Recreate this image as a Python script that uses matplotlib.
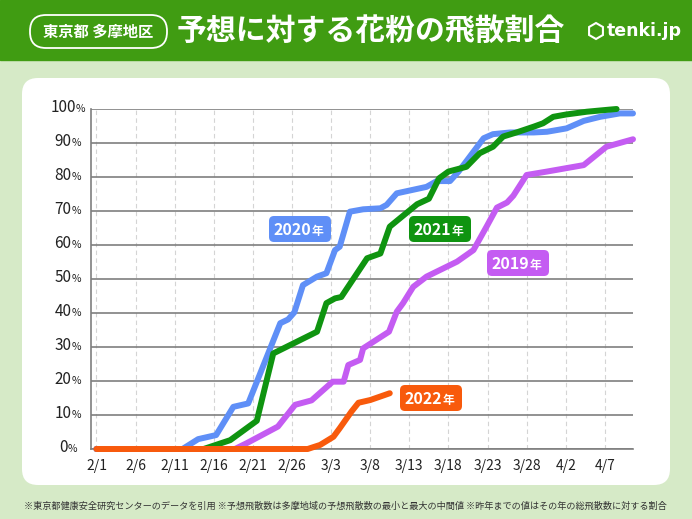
import matplotlib
matplotlib.use("Agg")
import matplotlib.pyplot as plt
from matplotlib.patches import FancyBboxPatch, Rectangle, RegularPolygon
from matplotlib import transforms

plt.rcParams['font.family'] = ['Noto Sans CJK JP', 'DejaVu Sans']

# data: day offset from 2/1, cumulative share (%)
days_2019 = [0, 17.7, 19.2, 23.2, 25.4, 27.5, 30.2, 31.6, 32.2, 33.7, 34.1, 37.4, 38.4, 39.2,
             40.5, 42.2, 46.1, 48.2, 49.9, 51.2, 52.5, 53.3, 55, 57.6, 62.3, 65.2, 68.6]
pct_2019 = [0, 0, 1.7, 6.6, 13, 14.3, 19.8, 19.8, 24.7, 26.2, 29.6, 34.5, 40.4, 42.9,
            47.7, 50.7, 55.1, 58.5, 65.5, 71, 72.5, 74.5, 80.6, 81.6, 83.5, 88.9, 91.1]

days_2020 = [0, 11, 13, 15.3, 17.5, 19.4, 23.5, 24.5, 25.3, 26.4, 28.2, 29.4, 30.5, 31.1,
             32.4, 34.1, 36.3, 37.1, 38.4, 41.4, 42.2, 43.5, 45.2, 46.3, 49.5, 50.7, 52.9,
             55.9, 57.6, 60.1, 62.3, 64.4, 66.9, 68.6]
pct_2020 = [0, 0, 2.9, 4.1, 12.4, 13.4, 37, 38.1, 40.2, 48.2, 50.7, 51.7, 58.5, 59.5,
            69.8, 70.5, 70.8, 71.8, 75.2, 76.7, 77.1, 78.8, 78.8, 81.6, 91.4, 92.6, 93.1,
            93.1, 93.3, 94.3, 96.5, 97.7, 98.7, 98.7]

days_2021 = [0, 13.7, 17.1, 20.5, 22.6, 28.2, 29.4, 30.5, 31.3, 34.6, 36.3, 37.5, 41, 42.5,
             43.8, 45, 47.3, 49, 50.7, 52, 53.7, 55.9, 57.1, 58.4, 60.1, 62.7, 65.5, 66.5]
pct_2021 = [0, 0, 2.6, 8.3, 28.1, 34.5, 42.9, 44.3, 44.7, 56.1, 57.5, 65.4, 72, 73.6,
            79.6, 81.6, 83, 87, 88.9, 91.9, 93.1, 94.8, 95.8, 97.7, 98.4, 99.2, 99.8, 100]

days_2022 = [0, 27, 28.6, 30.3, 31.1, 32.6, 33.5, 35, 37.5]
pct_2022 = [0, 0, 1.2, 3.6, 6.1, 11, 13.6, 14.4, 16.4]

tick_days = list(range(0, 66, 5))
tick_labels = ['2/1', '2/6', '2/11', '2/16', '2/21', '2/26', '3/3', '3/8',
               '3/13', '3/18', '3/23', '3/28', '4/2', '4/7']

C_2019 = '#c45cf2'
C_2020 = '#5f8ff7'
C_2021 = '#0f9410'
C_2022 = '#f85a0c'

W, H = 692, 519
fig = plt.figure(figsize=(W / 100, H / 100), dpi=100)
fig.patch.set_facecolor('#d6eac7')
inch = fig.dpi_scale_trans


def px_box(x0, y0, x1, y1, **kw):
    # rectangle given in pixel coords (top-left origin)
    return FancyBboxPatch((x0 / 100, (H - y1) / 100), (x1 - x0) / 100, (y1 - y0) / 100,
                          transform=inch, **kw)


# header band
fig.patches.append(Rectangle((0, (H - 60) / 100), W / 100, 60 / 100, transform=inch,
                             color='#409c12', zorder=-5))
fig.patches.append(px_box(30, 15, 167, 48, boxstyle='round,pad=0,rounding_size=0.16',
                          facecolor='none', edgecolor='white', lw=1.3, zorder=-4))
fig.text(98.5 / W, 1 - 32 / H, '東京都 多摩地区', color='white', fontsize=11,
         fontweight='bold', ha='center', va='center')
fig.text(371 / W, 1 - 31 / H, '予想に対する花粉の飛散割合', color='white', fontsize=21.5,
         fontweight='bold', ha='center', va='center')
fig.patches.append(RegularPolygon((596 / 100, (H - 31) / 100), 6, radius=0.08, transform=inch,
                                  facecolor='none', edgecolor='white', lw=1.5, zorder=-4))
fig.text(607 / W, 1 - 31 / H, 'tenki.jp', color='white', fontsize=12.5,
         fontweight='bold', ha='left', va='center', family='DejaVu Sans')

# white panel
fig.patches.append(px_box(22, 78, 670, 485, boxstyle='round,pad=0,rounding_size=0.16',
                          facecolor='white', edgecolor='none', zorder=-5))

fig.text(345 / W, 1 - 506 / H,
         '※東京都健康安全研究センターのデータを引用 ※予想飛散数は多摩地域の予想飛散数の最小と最大の中間値 '
         '※昨年までの値はその年の総飛散数に対する割合',
         color='#333333', fontsize=6.6, ha='center', va='center')

ax = fig.add_axes([91 / W, 1 - 449 / H, 542 / W, 340 / H])
ax.set_facecolor('none')
ax.set_xlim(-0.7, 68.6)
ax.set_ylim(0, 100)

ax.set_yticks(range(0, 101, 10))
ax.set_yticklabels([])
ax.yaxis.grid(True, color='#7f7f7f', lw=1.2)
ax.set_xticks(tick_days)
ax.set_xticklabels(tick_labels, fontsize=10, color='#222222')
ax.xaxis.grid(True, color='#d4d4d4', lw=0.8, linestyle=(0, (4, 3)))
ax.tick_params(length=0, pad=7)
ax.tick_params(axis='y', length=0)
for s in ['top', 'right']:
    ax.spines[s].set_visible(False)
for s in ['left', 'bottom']:
    ax.spines[s].set_color('#7f7f7f')
    ax.spines[s].set_linewidth(1.2)
ax.set_axisbelow(True)

lw = 4.3
for d, p, c, z in [(days_2020, pct_2020, C_2020, 3), (days_2021, pct_2021, C_2021, 4),
                   (days_2019, pct_2019, C_2019, 5), (days_2022, pct_2022, C_2022, 6)]:
    ax.plot(d, p, color=c, lw=lw, solid_joinstyle='round', solid_capstyle='round',
            clip_on=False, zorder=z)

# y tick labels: number + small %
ytr = transforms.blended_transform_factory(fig.transFigure, ax.transData) + \
    transforms.ScaledTranslation(0, -3 / 100, inch)
for v in range(0, 101, 10):
    s = str(v)
    n = len(s)
    right = 68 - (n * 8.5 + 10) / 2 + n * 8.5
    fig.text(right / W, v, s, transform=ytr, fontsize=11, color='#222222',
             ha='right', va='baseline')
    fig.text(right / W, v, '%', transform=ytr, fontsize=7.5, color='#222222',
             ha='left', va='baseline')


# year labels in rounded boxes
def year_label(cx, cy, year, color):
    fig.patches.append(px_box(cx - 31, cy - 13, cx + 31, cy + 13,
                              boxstyle='round,pad=0,rounding_size=0.05',
                              facecolor=color, edgecolor='none', zorder=10))
    fig.text((cx + 11) / W, 1 - (cy + 6) / H, year, color='white', fontsize=11.5,
             fontweight='bold', ha='right', va='baseline', zorder=11)
    fig.text((cx + 11.5) / W, 1 - (cy + 6) / H, '年', color='white', fontsize=8.5,
             fontweight='bold', ha='left', va='baseline', zorder=11)


year_label(300, 229, '2020', C_2020)
year_label(440, 229, '2021', C_2021)
year_label(518, 263, '2019', C_2019)
year_label(431, 398, '2022', C_2022)

fig.savefig('out.png', dpi=100, facecolor=fig.get_facecolor())
